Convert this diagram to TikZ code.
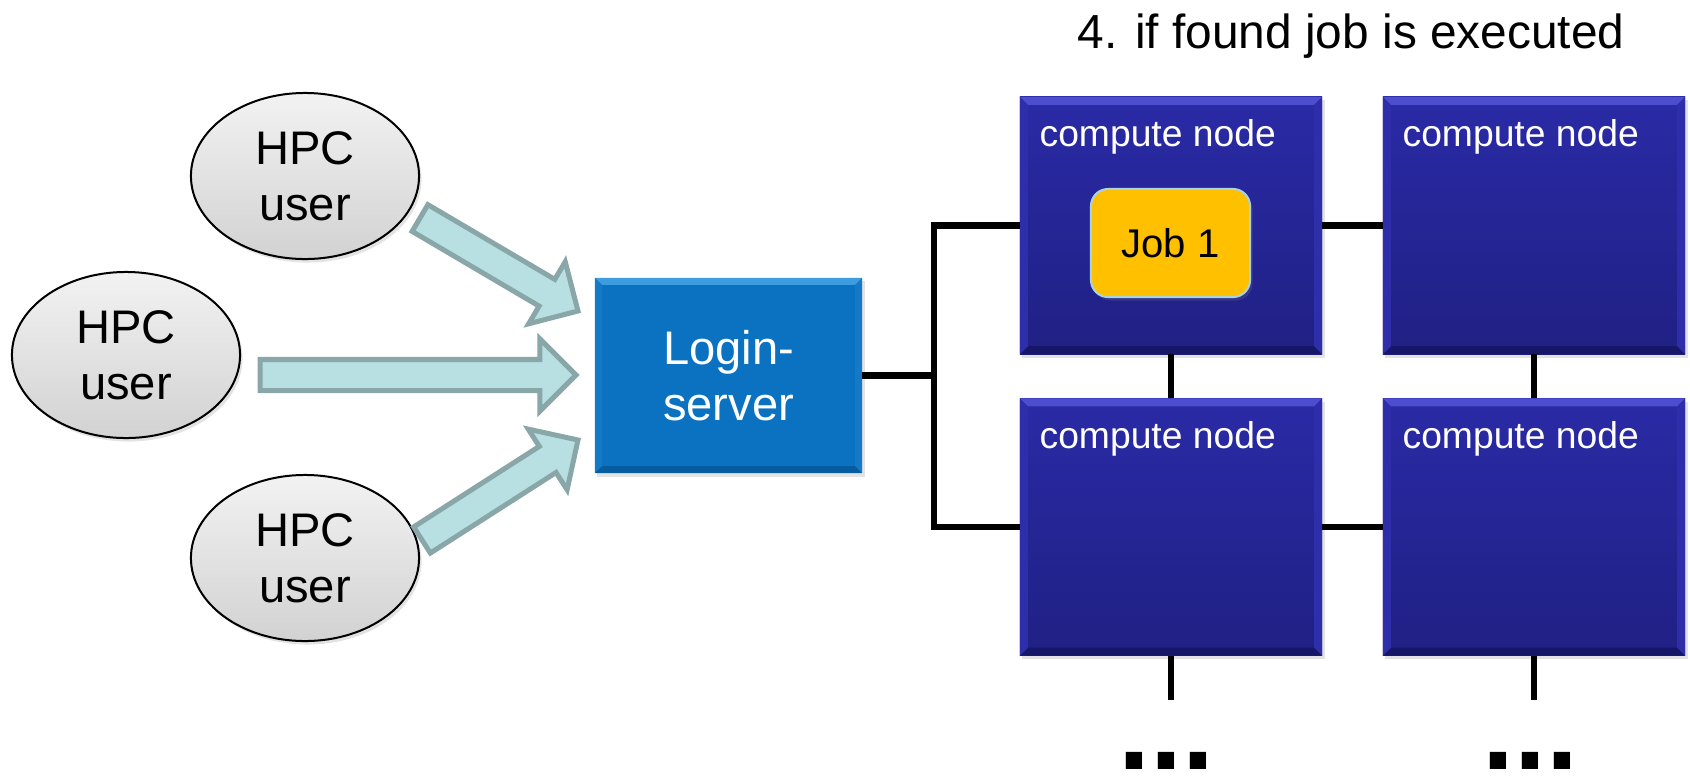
\documentclass[tikz,border=0pt]{standalone}
\usepackage{fontspec}
\setmainfont{Liberation Sans}
\usetikzlibrary{calc,shapes.geometric,shadows}
\definecolor{arrowfill}{HTML}{B8DFE2}
\definecolor{arrowline}{HTML}{89A6A8}
\definecolor{loginblue}{HTML}{0A72C1}
\definecolor{loginTop}{HTML}{3E9CE0}
\definecolor{loginSide}{HTML}{1479C6}
\definecolor{loginBot}{HTML}{065C9E}
\definecolor{cnTop}{HTML}{2A2AA6}
\definecolor{cnBot}{HTML}{202084}
\definecolor{cnBevTop}{HTML}{4D4DCF}
\definecolor{cnBevSide}{HTML}{2E2EAA}
\definecolor{cnBevBot}{HTML}{17176A}
\definecolor{ellTop}{HTML}{F2F2F2}
\definecolor{ellBot}{HTML}{D2D2D2}
\definecolor{jobfill}{HTML}{FFC000}
\definecolor{jobline}{HTML}{A9D2E2}
\newcommand\bigfnt{\fontsize{13.4}{16}\selectfont}
\newcommand\titlefnt{\fontsize{13.6}{16}\selectfont}
\newcommand\cnfnt{\fontsize{10.6}{12}\selectfont}
\newcommand\jobfnt{\fontsize{11.4}{13}\selectfont}
\newcommand\dotfnt{\fontsize{32.7}{36}\selectfont\bfseries}
\newcommand\mybevel[5]{% node, top, side, bottom, size
  \fill[#2] (#1.north west) -- (#1.north east) -- ($(#1.north east)+(-#5,#5)$) -- ($(#1.north west)+(#5,#5)$) -- cycle;
  \fill[#4] (#1.south west) -- (#1.south east) -- ($(#1.south east)+(-#5,-#5)$) -- ($(#1.south west)+(#5,-#5)$) -- cycle;
  \fill[#3] (#1.north west) -- ($(#1.north west)+(#5,#5)$) -- ($(#1.south west)+(#5,-#5)$) -- (#1.south west) -- cycle;
  \fill[#3] (#1.north east) -- ($(#1.north east)+(-#5,#5)$) -- ($(#1.south east)+(-#5,-#5)$) -- (#1.south east) -- cycle;}
\newcommand\blockarr[2]{% tail coordinate, tip coordinate
  \coordinate (#2h) at ($(#2)!0.36cm!(#1)$);
  \draw[barrow] ($(#1)!0.155cm!90:(#2)$) -- ($(#2h)!0.155cm!90:(#2)$) -- ($(#2h)!0.36cm!90:(#2)$) -- (#2)
    -- ($(#2h)!0.36cm!-90:(#2)$) -- ($(#2h)!0.155cm!-90:(#2)$) -- ($(#1)!0.155cm!-90:(#2)$) -- cycle;}
\begin{document}
\begin{tikzpicture}[x=0.01cm,y=-0.01cm,
  shad/.style={drop shadow={opacity=0.22,shadow xshift=0.025cm,shadow yshift=-0.035cm}},
  user/.style={ellipse,draw=black,line width=0.02cm,top color=ellTop,bottom color=ellBot,
    minimum width=2.28cm,minimum height=1.66cm,inner sep=0pt,align=center,font=\bigfnt,shad},
  loginbox/.style={rectangle,fill=loginblue,minimum width=2.67cm,minimum height=1.95cm,
    inner sep=0pt,outer sep=0pt,shad},
  logintext/.style={text=white,align=center,font=\bigfnt,inner sep=0pt},
  cnode/.style={rectangle,top color=cnTop,bottom color=cnBot,minimum width=3.02cm,
    minimum height=2.57cm,inner sep=0pt,outer sep=0pt,shad},
  cnlabel/.style={anchor=base west,text=white,font=\cnfnt,inner sep=0pt},
  jobbox/.style={rectangle,rounded corners=0.17cm,fill=jobfill,draw=jobline,line width=0.02cm,
    minimum width=1.59cm,minimum height=1.08cm,font=\jobfnt,shad},
  bus/.style={line width=0.065cm,black,line join=miter},
  barrow/.style={fill=arrowfill,draw=arrowline,line width=0.05cm,line join=miter},
  dots/.style={font=\dotfnt,anchor=base,inner sep=0pt}]
\useasboundingbox (0,0) rectangle (1690,775);

% users
\node[user] (u1) at (305,176) {HPC\\user};
\node[user] (u2) at (126,355) {HPC\\user};
\node[user] (u3) at (305,558) {HPC\\user};

% login server
\node[loginbox] (login) at (728.5,375.5) {};
\mybevel{login}{loginTop}{loginSide}{loginBot}{7}
\node[logintext] (logint) at (login.center) {Login-\\server};

% arrows
\coordinate (a1t) at (420,218);
\coordinate (a1h) at (578,311);
\coordinate (a2t) at (260,375);
\coordinate (a2h) at (576,375);
\coordinate (a3t) at (422,540);
\coordinate (a3h) at (578,440);
\blockarr{a1t}{a1h}
\blockarr{a2t}{a2h}
\blockarr{a3t}{a3h}

% compute nodes
\node[cnode] (tl) at (1171,225.5) {};
\node[cnode] (tr) at (1534,225.5) {};
\node[cnode] (bl) at (1171,527) {};
\node[cnode] (br) at (1534,527) {};
\mybevel{tl}{cnBevTop}{cnBevSide}{cnBevBot}{8}
\mybevel{tr}{cnBevTop}{cnBevSide}{cnBevBot}{8}
\mybevel{bl}{cnBevTop}{cnBevSide}{cnBevBot}{8}
\mybevel{br}{cnBevTop}{cnBevSide}{cnBevBot}{8}
\node[cnlabel] (tll) at ($(tl.north west)+(19,50)$) {compute node};
\node[cnlabel] (trl) at ($(tr.north west)+(19,50)$) {compute node};
\node[cnlabel] (bll) at ($(bl.north west)+(19,50)$) {compute node};
\node[cnlabel] (brl) at ($(br.north west)+(19,50)$) {compute node};

\node[jobbox] (job) at (1170.5,243) {Job 1};

% network
\coordinate (busj) at (934,375.5);
\draw[bus] (login.east) -- (busj);
\draw[bus] (tl.west) -| (busj) |- (bl.west);
\draw[bus] (tl.east) -- (tr.west);
\draw[bus] (bl.east) -- (br.west);
\draw[bus] (tl.south) -- (bl.north);
\draw[bus] (tr.south) -- (br.north);
\coordinate (st1) at (1171,700);
\coordinate (st2) at (1534,700);
\draw[bus] (bl.south) -- (st1);
\draw[bus] (br.south) -- (st2);

\node[dots] (d1) at (1166,769) {...};
\node[dots] (d2) at (1530,769) {...};

\node[font=\titlefnt,anchor=base,inner sep=0pt] (title) at (1351,48) {4. if found job is executed};
\end{tikzpicture}
\end{document}
